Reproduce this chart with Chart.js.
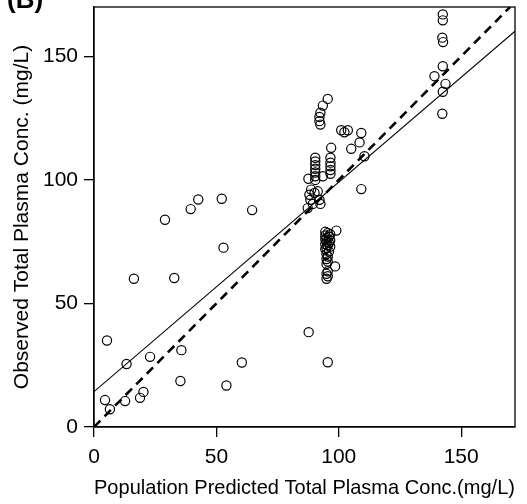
<!DOCTYPE html>
<html>
<head>
<meta charset="utf-8">
<style>
  body { margin: 0; background: #fff; }
  #wrap { width: 527px; height: 504px; }
</style>
</head>
<body>
<div id="wrap"><canvas id="chartObs" width="527" height="504"></canvas></div>
<script src="https://cdn.jsdelivr.net/npm/chart.js@4/dist/chart.umd.min.js"></script>
<script>
// Population predicted (x) vs observed (y), mg/L
const predX = [
  4.5, 6.5, 12.7, 18.8, 20.2, 5.3, 13.3, 22.9, 35.7, 35.3, 54.1, 60.4, 16.3, 32.8, 52.9, 29.0, 39.5, 42.6, 52.2, 64.6,
  87.7, 95.5,
  94.5, 95.5, 96.5, 94.5, 96.0, 95.0, 94.5, 96.5, 95.0, 96.0, 94.5, 95.5, 96.5, 95.0, 94.5, 96.0, 95.0, 95.5, 95.0, 95.5, 95.0, 99.0, 98.5, 95.5, 95.0, 95.5, 95.0,
  90.4, 90.4, 90.4, 90.4, 90.4, 90.4, 90.4, 96.6, 96.6, 96.6, 96.6, 96.6, 87.6, 93.5, 109.2, 110.5, 88.7, 88.0, 90.1, 91.4, 88.4, 92.1, 89.4, 92.5, 87.3,
  95.5, 93.5, 92.5, 92.1, 92.1, 92.5, 101.0, 102.3, 103.7, 109.2, 108.5, 105.1, 96.9,
  142.5, 142.5, 142.3, 142.6, 142.5, 139.1, 143.6, 142.5, 142.3
];
const obsY = [
  10.9, 7.2, 10.5, 11.8, 14.2, 35.0, 25.5, 28.4, 31.1, 18.6, 16.8, 26.1, 60.0, 60.3, 72.6, 83.9, 88.2, 92.1, 92.4, 87.8,
  38.4, 26.2,
  79.0, 78.5, 78.0, 77.5, 77.0, 76.5, 76.0, 75.5, 75.0, 74.5, 74.0, 73.5, 73.0, 72.5, 72.0, 71.0, 70.0, 69.0, 68.0, 67.0, 66.0, 79.5, 65.0, 63.0, 62.0, 61.0, 60.0,
  109.0, 107.5, 106.0, 104.5, 103.0, 101.5, 100.0, 109.0, 107.0, 105.5, 104.0, 102.5, 100.5, 101.5, 96.3, 109.6, 96.1, 94.0, 94.7, 95.4, 92.0, 92.0, 90.3, 90.3, 88.6,
  132.8, 130.1, 127.2, 125.5, 123.8, 122.4, 120.1, 119.3, 120.1, 119.0, 115.2, 112.6, 113.0,
  167.0, 164.6, 157.6, 155.8, 146.0, 142.0, 138.9, 135.7, 126.8
];
// line of identity and fitted regression line
const identityX = [0, 170];
const identityY = [0, 170];
const fitX = [0, 172];
const fitY = [14.3, 160.2];
const tickValues = [0, 50, 100, 150];

const toPoints = (xs, ys) => xs.map((x, i) => ({ x: x, y: ys[i] }));
const FONT = "'Liberation Sans', Arial, sans-serif";

const framePlugin = {
  id: 'frame',
  afterDraw(chart) {
    const { ctx, chartArea: a } = chart;
    ctx.save();
    ctx.strokeStyle = '#000';
    ctx.lineWidth = 1.3;
    ctx.strokeRect(a.left, a.top, a.right - a.left, a.bottom - a.top);
    ctx.fillStyle = '#000';
    ctx.font = 'bold 26px ' + FONT;
    ctx.textBaseline = 'alphabetic';
    ctx.fillText('(B)', 7, 8);
    ctx.restore();
  }
};

// keep the plot box fixed, no extra label padding
function fixBox(size, horizontal) {
  return s => {
    if (horizontal) s.height = size; else s.width = size;
    s.paddingTop = 0; s.paddingBottom = 0; s.paddingLeft = 0; s.paddingRight = 0;
  };
}

new Chart(document.getElementById('chartObs'), {
  type: 'scatter',
  data: {
    datasets: [
      {
        label: 'Observed',
        data: toPoints(predX, obsY),
        pointStyle: 'circle',
        pointRadius: 4.6,
        pointBorderWidth: 1.2,
        borderColor: '#000',
        backgroundColor: 'rgba(0,0,0,0)',
        showLine: false
      },
      {
        label: 'Identity',
        type: 'line',
        data: toPoints(identityX, identityY),
        borderColor: '#000',
        borderWidth: 2.6,
        borderDash: [9, 6],
        pointRadius: 0,
        fill: false
      },
      {
        label: 'Fit',
        type: 'line',
        data: toPoints(fitX, fitY),
        borderColor: '#000',
        borderWidth: 1.1,
        pointRadius: 0,
        fill: false
      }
    ]
  },
  options: {
    responsive: false,
    animation: false,
    layout: { padding: { top: 7, right: 12, left: 0, bottom: 0 } },
    plugins: {
      legend: { display: false },
      tooltip: { enabled: false }
    },
    scales: {
      x: {
        type: 'linear',
        min: 0,
        max: 172,
        afterFit: fixBox(77, true),
        afterBuildTicks: s => { s.ticks = tickValues.map(v => ({ value: v })); },
        ticks: { color: '#000', font: { family: FONT, size: 21 }, padding: 8 },
        grid: { drawOnChartArea: false, tickLength: 10, color: '#000', lineWidth: 1.3 },
        border: { color: '#000', width: 1.3 },
        title: {
          display: true,
          text: 'Population Predicted Total Plasma Conc.(mg/L)',
          color: '#000',
          font: { family: FONT, size: 21 },
          padding: { top: 0, bottom: 3 }
        }
      },
      y: {
        type: 'linear',
        min: 0,
        max: 170,
        afterFit: fixBox(94, false),
        afterBuildTicks: s => { s.ticks = tickValues.map(v => ({ value: v })); },
        ticks: { color: '#000', font: { family: FONT, size: 21 }, padding: 6 },
        grid: { drawOnChartArea: false, tickLength: 10, color: '#000', lineWidth: 1.3 },
        border: { color: '#000', width: 1.3 },
        title: {
          display: true,
          text: 'Observed Total Plasma Conc. (mg/L)',
          color: '#000',
          font: { family: FONT, size: 21 },
          padding: { top: 10, bottom: 0 }
        }
      }
    }
  },
  plugins: [framePlugin]
});
</script>
</body>
</html>
